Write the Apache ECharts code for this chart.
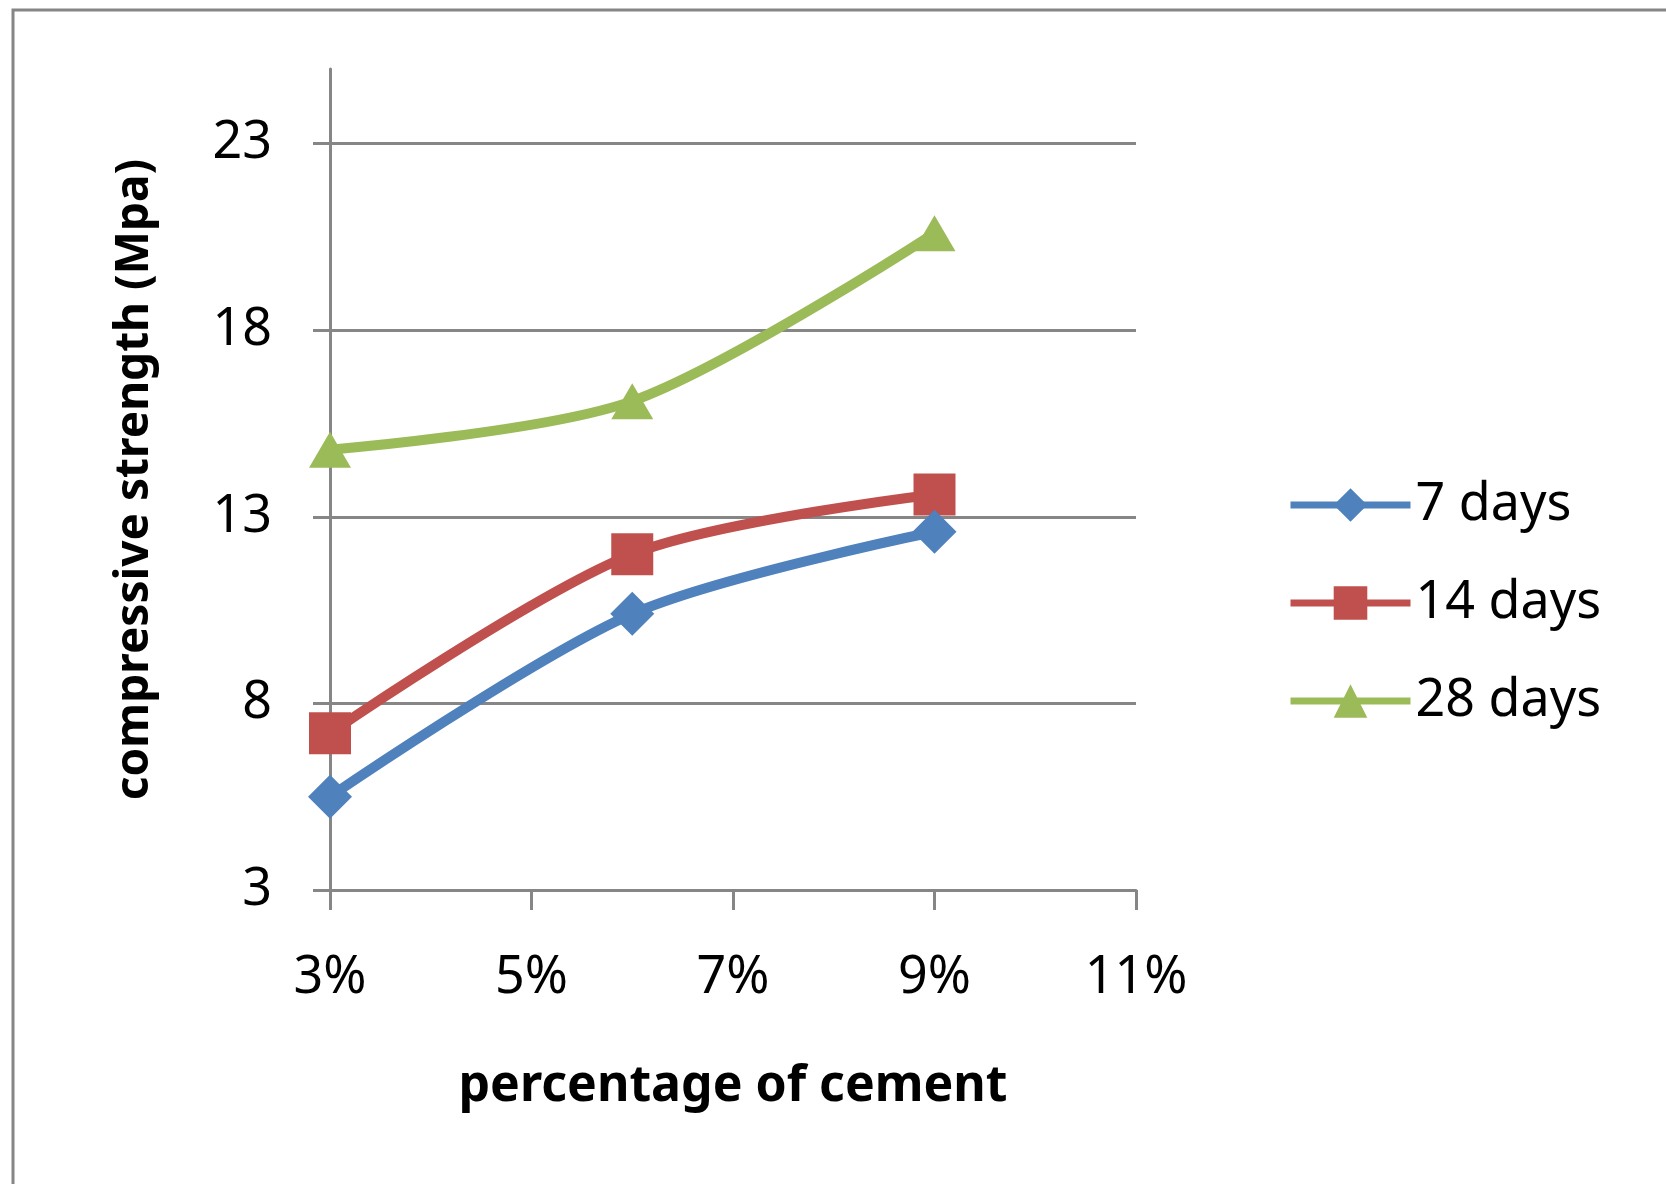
<!DOCTYPE html>
<html>
<head>
<meta charset="utf-8">
<title>compressive strength</title>
<script src="https://cdn.jsdelivr.net/npm/echarts@6/dist/echarts.min.js"></script>
<style>
  html, body { margin: 0; padding: 0; background: #fff; }
  #chart { width: 1666px; height: 1184px; }
</style>
</head>
<body>
<div id="chart"></div>
<script>
// cement percentage (x) and strength values (Mpa)
const cementPct = [3, 6, 9];
const days7 = [5.5, 10.4, 12.6];
const days14 = [7.2, 12.0, 13.6];
const days28 = [14.8, 16.1, 20.6];
const seriesNames = ["7 days", "14 days", "28 days"];
const xTicks = [3, 5, 7, 9, 11];
const yTicks = [3, 8, 13, 18, 23];

const colors = ["#4f81bd", "#c0504d", "#9bbb59"];
const gray = "#868686";
const font = "'Noto Sans', 'DejaVu Sans', sans-serif";

function pairs(xs, ys) {
  return xs.map((x, i) => [x, ys[i]]);
}

const chart = echarts.init(document.getElementById("chart"));

chart.setOption({
  animation: false,
  color: colors,
  textStyle: { fontFamily: font, color: "#000" },
  graphic: [
    {
      // outer chart border
      type: "rect",
      shape: { x: 13, y: 10, width: 1700, height: 1250 },
      style: { fill: null, stroke: gray, lineWidth: 3 },
      silent: true
    }
  ],
  grid: {
    left: 330,
    right: 530,
    top: 69,
    bottom: 294
  },
  legend: {
    orient: "vertical",
    left: 1282,
    top: 474,
    itemWidth: 120,
    itemHeight: 42,
    itemGap: 46,
    lineStyle: { width: 7 },
    textStyle: {
      fontSize: 52,
      color: "#000",
      fontFamily: font
    },
    data: seriesNames
  },
  xAxis: {
    type: "value",
    min: 3,
    max: 11,
    name: "percentage of cement",
    nameLocation: "middle",
    nameGap: 172,
    nameTextStyle: { fontSize: 50, fontWeight: "bold", color: "#000" },
    axisLine: { lineStyle: { color: gray, width: 3 } },
    axisTick: {
      show: true,
      length: 20,
      customValues: xTicks,
      lineStyle: { color: gray, width: 3 }
    },
    axisLabel: {
      customValues: xTicks,
      fontSize: 52,
      margin: 62,
      color: "#000",
      formatter: v => v + "%"
    },
    splitLine: { show: false }
  },
  yAxis: {
    type: "value",
    min: 3,
    max: 25,
    name: "compressive strength (Mpa)",
    nameLocation: "middle",
    nameGap: 172,
    nameTextStyle: { fontSize: 46, fontWeight: "bold", color: "#000" },
    axisLine: { show: true, lineStyle: { color: gray, width: 3 } },
    axisTick: {
      show: true,
      length: 17,
      customValues: yTicks,
      lineStyle: { color: gray, width: 3 }
    },
    axisLabel: {
      customValues: yTicks,
      fontSize: 52,
      margin: 58,
      color: "#000"
    },
    splitLine: { show: true, lineStyle: { color: gray, width: 3 } }
  },
  series: [
    {
      name: seriesNames[0],
      type: "line",
      smooth: 0.3,
      data: pairs(cementPct, days7),
      symbol: "diamond",
      symbolSize: 44,
      lineStyle: { width: 10 },
      z: 5
    },
    {
      name: seriesNames[1],
      type: "line",
      smooth: 0.3,
      data: pairs(cementPct, days14),
      symbol: "rect",
      symbolSize: 42,
      lineStyle: { width: 10 },
      z: 4
    },
    {
      name: seriesNames[2],
      type: "line",
      smooth: 0.3,
      data: pairs(cementPct, days28),
      symbol: "triangle",
      symbolSize: [42, 36],
      lineStyle: { width: 10 },
      z: 3
    }
  ]
});
</script>
</body>
</html>
